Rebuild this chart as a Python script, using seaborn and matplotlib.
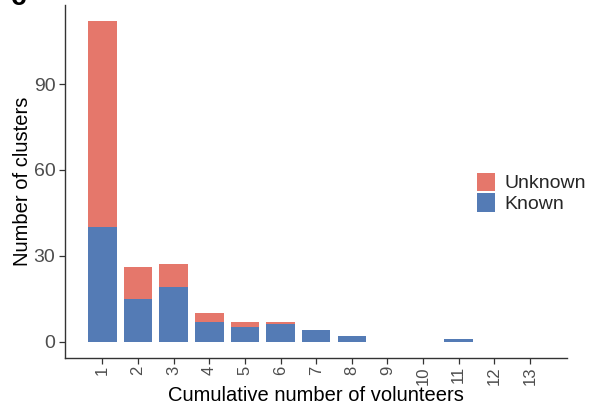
import matplotlib
matplotlib.use("Agg")
import matplotlib.pyplot as plt
import seaborn as sns
import pandas as pd
from matplotlib.patches import Patch

# Clusters per cumulative number of volunteers
volunteers = ["1", "2", "3", "4", "5", "6", "7", "8", "9", "10", "11", "12", "13"]
known = [40, 15, 19, 7, 5, 6, 4, 2, 0, 0, 1, 0, 0]
unknown = [72, 11, 8, 3, 2, 1, 0, 0, 0, 0, 0, 0, 0]
total = [k + u for k, u in zip(known, unknown)]

df = pd.DataFrame({"volunteers": volunteers, "known": known, "total": total})

red = "#E5776B"
blue = "#547BB5"
grey_txt = "#4D4D4D"
spine_col = "#333333"

sns.set_theme(style="white")
plt.rcParams["font.family"] = ["Liberation Sans", "DejaVu Sans"]

fig = plt.figure(figsize=(5.97, 4.08), dpi=100)
ax = fig.add_axes([0.1089, 0.1233, 0.9497 - 0.1089, 0.9877 - 0.1233])

# stacked: total drawn first (unknown on top), known drawn over it
sns.barplot(data=df, x="volunteers", y="total", color=red, saturation=1,
            width=0.8, linewidth=0, ax=ax, order=volunteers)
sns.barplot(data=df, x="volunteers", y="known", color=blue, saturation=1,
            width=0.8, linewidth=0, ax=ax, order=volunteers)

ax.set_xlim(-1.05, 13.04)
ax.set_ylim(-5.6, 117.6)
ax.set_yticks([0, 30, 60, 90])
ax.set_xlabel("Cumulative number of volunteers", fontsize=14.5, color="black",
              va="center")
ax.set_ylabel("Number of clusters", fontsize=14.5, color="black", va="center")
ax.xaxis.set_label_coords(0.5, -0.108)
ax.yaxis.set_label_coords(-0.085, 0.5)

for side in ["top", "right"]:
    ax.spines[side].set_visible(False)
for side in ["left", "bottom"]:
    ax.spines[side].set_color(spine_col)
    ax.spines[side].set_linewidth(1.0)

ax.tick_params(axis="both", which="both", length=4, width=0.9, color=spine_col,
               labelcolor=grey_txt, left=True, bottom=True)
ax.tick_params(axis="y", labelsize=14, pad=3)
ax.tick_params(axis="x", labelsize=12, labelrotation=90, pad=2)

handles = [Patch(facecolor=red, edgecolor="none", label="Unknown"),
           Patch(facecolor=blue, edgecolor="none", label="Known")]
fig.legend(handles=handles, loc="center left", bbox_to_anchor=(0.799, 0.527),
           frameon=False, fontsize=14, handlelength=0.95, handleheight=1.1,
           handletextpad=0.45, labelspacing=0.05, borderaxespad=0,
           borderpad=0)

fig.text(0.018, 0.988, "c", fontsize=20, fontweight="bold", va="baseline",
         ha="left", color="black")

fig.savefig("out.png", dpi=100)
